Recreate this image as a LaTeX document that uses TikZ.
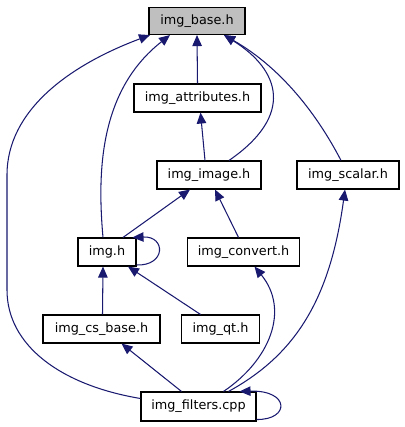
\documentclass[tikz,border=0pt]{standalone}
\usepackage{fontspec}
\setmainfont{DejaVu Sans}
\usetikzlibrary{arrows.meta}
\definecolor{edgeblue}{HTML}{191970}
\definecolor{basegray}{HTML}{BFBFBF}
\begin{document}
\begin{tikzpicture}[x=1pt,y=-1pt,
  file/.style={draw=black, line width=1.1pt, fill=white, rectangle, inner sep=0pt,
    minimum height=28pt, font=\fontsize{12.8}{14}\selectfont},
  dep/.style={draw=edgeblue, line width=1.05pt, -{Triangle[length=11pt,width=9.5pt]}}]
\useasboundingbox (0,0) rectangle (404,427);

\node[file, fill=basegray, minimum width=96pt, minimum height=27pt] (base) at (197,21) {img\_base.h};
\node[file, minimum width=127pt] (attr) at (197.5,98) {img\_attributes.h};
\node[file, minimum width=104pt] (image) at (209,175) {img\_image.h};
\node[file, minimum width=102pt] (scalar) at (348,175) {img\_scalar.h};
\node[file, minimum width=58pt] (imgh) at (107,252) {img.h};
\node[file, minimum width=112pt] (convert) at (243.5,252) {img\_convert.h};
\node[file, minimum width=117pt] (csbase) at (101.5,329) {img\_cs\_base.h};
\node[file, minimum width=78pt] (qt) at (220.5,329) {img\_qt.h};
\node[file, minimum width=115pt, minimum height=29pt] (filters) at (198.5,406.5) {img\_filters.cpp};

% edges
\draw[dep] (attr.north) -- (base.south);
\draw[dep] ([xshift=-4pt]image.north) -- ([xshift=3pt]attr.south);
\draw[dep] ([xshift=20pt]image.north) .. controls (295,115) and (280,70) .. ([xshift=27pt]base.south);
\draw[dep] ([xshift=-7pt]scalar.north) .. controls (320,120) and (285,70) .. ([xshift=27pt]base.south);
\draw[dep] ([xshift=-4pt]imgh.north) .. controls (97,170) and (100,90) .. ([xshift=-27pt]base.south);
\draw[dep] ([yshift=8pt]filters.west) .. controls (60,385) and (7,345) .. (7,290) -- (7,175)
  .. controls (7,110) and (70,65) .. ([xshift=-47pt]base.south);
\draw[dep] ([xshift=16pt]imgh.north) -- ([xshift=-19pt]image.south);
\draw[dep] ([xshift=-5pt]convert.north) -- ([xshift=6pt]image.south);
\draw[dep] ([yshift=-13pt]imgh.east) .. controls (166,266) and (166,236) .. ([xshift=-4pt]imgh.north east);
\draw[dep] ([xshift=1pt]csbase.north) -- ([xshift=-4pt]imgh.south);
\draw[dep] ([xshift=-20pt]qt.north) -- ([xshift=21pt]imgh.south);
\draw[dep] ([xshift=-17pt]filters.north) -- ([xshift=20pt]csbase.south);
\draw[dep] ([xshift=25pt]filters.north) .. controls (270,360) and (290,310) .. ([xshift=11pt]convert.south);
\draw[dep] ([xshift=30pt]filters.north) .. controls (295,355) and (330,300) .. ([xshift=-3pt]scalar.south);
\draw[dep] ([yshift=-13pt]filters.east) .. controls (290,420) and (290,390) .. ([xshift=-17pt]filters.north east);
\end{tikzpicture}
\end{document}
